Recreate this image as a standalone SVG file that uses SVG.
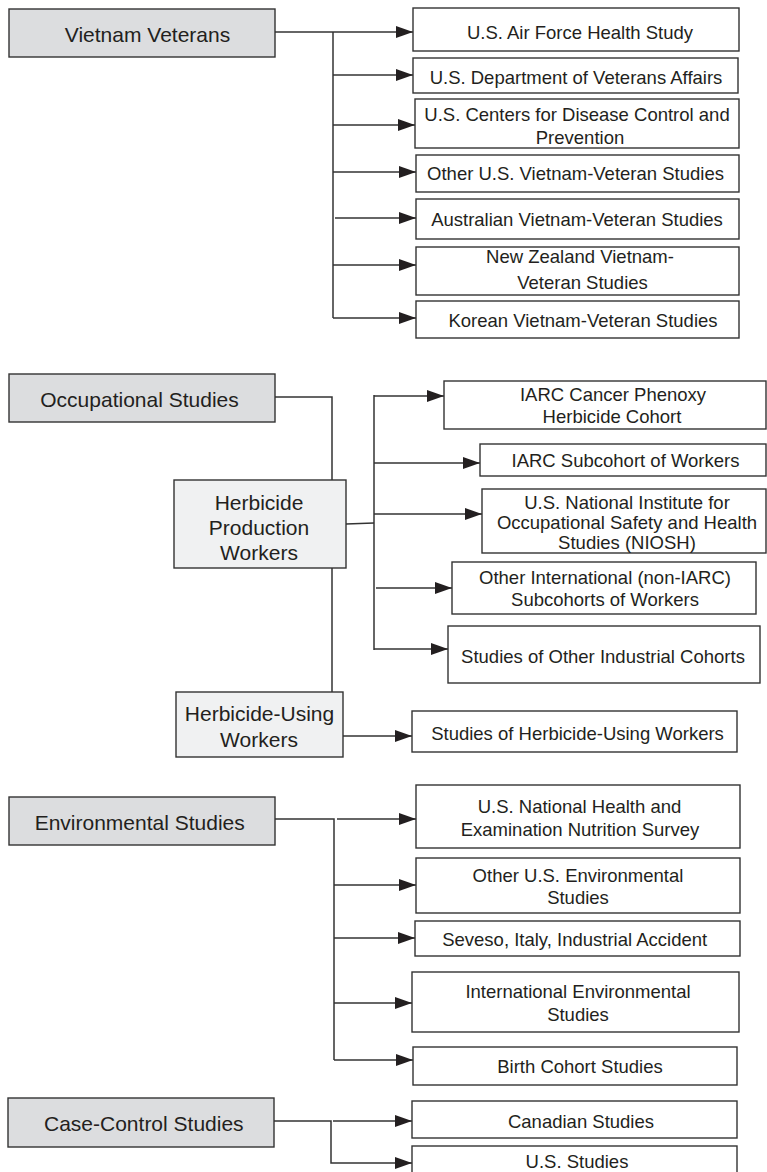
<svg xmlns="http://www.w3.org/2000/svg" width="767" height="1172" viewBox="0 0 767 1172">
<style>
.bg{fill:#ffffff}
.main rect{fill:#dcdddf;stroke:#333;stroke-width:1.4}
.sub rect{fill:#f0f1f2;stroke:#333;stroke-width:1.4}
.leaf rect{fill:#ffffff;stroke:#333;stroke-width:1.4}
text{font-family:"Liberation Sans",Arial,sans-serif;fill:#231f20;text-anchor:middle}
.main text,.sub text{font-size:21px}
.leaf text{font-size:18.5px}
#connectors path{fill:none;stroke:#333;stroke-width:1.5}
</style>
<defs>
<marker id="arr" markerUnits="userSpaceOnUse" markerWidth="18" markerHeight="13" refX="17" refY="6" orient="auto">
<path d="M0,0 L17,6 L0,12 z" fill="#231f20"/>
</marker>
</defs>
<rect class="bg" x="0" y="0" width="767" height="1172"/>

<g id="connectors">
<path d="M275,32 H413" marker-end="url(#arr)"/>
<path d="M333,32 V318"/>
<path d="M333,75 H413" marker-end="url(#arr)"/>
<path d="M333,125 H415" marker-end="url(#arr)"/>
<path d="M333,172 H416" marker-end="url(#arr)"/>
<path d="M335,218 H416" marker-end="url(#arr)"/>
<path d="M333,265 H416" marker-end="url(#arr)"/>
<path d="M333,318 H416" marker-end="url(#arr)"/>

<path d="M275,397 H332 V480"/>
<path d="M332,568 V692"/>
<path d="M346,524 L374,523"/>
<path d="M374,395 V650"/>
<path d="M374,396 H444" marker-end="url(#arr)"/>
<path d="M374,463 H480" marker-end="url(#arr)"/>
<path d="M374,514 H482" marker-end="url(#arr)"/>
<path d="M376,588 H452" marker-end="url(#arr)"/>
<path d="M374,649 H448" marker-end="url(#arr)"/>
<path d="M343,736 H412" marker-end="url(#arr)"/>

<path d="M275,819 H334 V1060"/>
<path d="M337,819 H416" marker-end="url(#arr)"/>
<path d="M334,885 H416" marker-end="url(#arr)"/>
<path d="M334,938 H415" marker-end="url(#arr)"/>
<path d="M334,1003 H412" marker-end="url(#arr)"/>
<path d="M334,1060 H413" marker-end="url(#arr)"/>

<path d="M274,1121 H331 V1163 H412" marker-end="url(#arr)"/>
<path d="M333,1121 H412" marker-end="url(#arr)"/>
</g>

<g id="vietnam-veterans" class="main"><rect x="9" y="9" width="266" height="48"/><text x="147.5" y="41.5">Vietnam Veterans</text></g>
<g id="af-health" class="leaf"><rect x="413" y="8" width="326" height="43"/><text x="580" y="39">U.S. Air Force Health Study</text></g>
<g id="va" class="leaf"><rect x="413" y="58" width="325" height="35"/><text x="576" y="84">U.S. Department of Veterans Affairs</text></g>
<g id="cdc" class="leaf"><rect x="415" y="99" width="324" height="49"/><text x="577" y="120.5">U.S. Centers for Disease Control and</text><text x="580" y="144">Prevention</text></g>
<g id="other-us-vv" class="leaf"><rect x="416" y="155" width="323" height="37"/><text x="575.5" y="180">Other U.S. Vietnam-Veteran Studies</text></g>
<g id="australian-vv" class="leaf"><rect x="416" y="199" width="323" height="40"/><text x="577" y="226">Australian Vietnam-Veteran Studies</text></g>
<g id="nz-vv" class="leaf"><rect x="416" y="247" width="323" height="48"/><text x="580" y="263">New Zealand Vietnam-</text><text x="582.5" y="289">Veteran Studies</text></g>
<g id="korean-vv" class="leaf"><rect x="416" y="301" width="323" height="37"/><text x="583" y="327">Korean Vietnam-Veteran Studies</text></g>

<g id="occupational" class="main"><rect x="9" y="374" width="266" height="48"/><text x="139.5" y="406.5">Occupational Studies</text></g>
<g id="herbicide-production" class="sub"><rect x="174" y="480" width="172" height="88"/><text x="259" y="509.5">Herbicide</text><text x="259" y="534.5">Production</text><text x="259" y="559.5">Workers</text></g>
<g id="herbicide-using" class="sub"><rect x="176" y="692" width="167" height="65"/><text x="259.5" y="720.5">Herbicide-Using</text><text x="259" y="746.5">Workers</text></g>
<g id="iarc-cancer" class="leaf"><rect x="444" y="381" width="322" height="48"/><text x="613" y="400.5">IARC Cancer Phenoxy</text><text x="612" y="422.5">Herbicide Cohort</text></g>
<g id="iarc-subcohort" class="leaf"><rect x="480" y="444" width="286" height="32"/><text x="625.5" y="466.5">IARC Subcohort of Workers</text></g>
<g id="niosh" class="leaf"><rect x="482" y="489" width="284" height="64"/><text x="627" y="508.5">U.S. National Institute for</text><text x="627" y="528.5">Occupational Safety and Health</text><text x="627" y="548.5">Studies (NIOSH)</text></g>
<g id="other-intl" class="leaf"><rect x="452" y="562" width="304" height="52"/><text x="605" y="583.5">Other International (non-IARC)</text><text x="605" y="605.5">Subcohorts of Workers</text></g>
<g id="other-industrial" class="leaf"><rect x="448" y="626" width="312" height="57"/><text x="603" y="662.5">Studies of Other Industrial Cohorts</text></g>
<g id="herbicide-using-studies" class="leaf"><rect x="412" y="711" width="325" height="41"/><text x="577.5" y="739.5">Studies of Herbicide-Using Workers</text></g>

<g id="environmental" class="main"><rect x="9" y="797" width="266" height="48"/><text x="139.7" y="829.5">Environmental Studies</text></g>
<g id="nhanes" class="leaf"><rect x="416" y="785" width="324" height="63"/><text x="579.5" y="812.5">U.S. National Health and</text><text x="580" y="835.5">Examination Nutrition Survey</text></g>
<g id="other-us-env" class="leaf"><rect x="416" y="858" width="324" height="55"/><text x="578" y="881.5">Other U.S. Environmental</text><text x="578" y="903.5">Studies</text></g>
<g id="seveso" class="leaf"><rect x="415" y="921" width="325" height="35"/><text x="574.7" y="945.5">Seveso, Italy, Industrial Accident</text></g>
<g id="intl-env" class="leaf"><rect x="412" y="972" width="327" height="60"/><text x="578" y="997.5">International Environmental</text><text x="578" y="1020.5">Studies</text></g>
<g id="birth-cohort" class="leaf"><rect x="413" y="1047" width="324" height="38"/><text x="580" y="1072.5">Birth Cohort Studies</text></g>

<g id="case-control" class="main"><rect x="8" y="1098" width="266" height="49"/><text x="143.8" y="1130.5">Case-Control Studies</text></g>
<g id="canadian" class="leaf"><rect x="412" y="1101" width="325" height="37"/><text x="581" y="1127.5">Canadian Studies</text></g>
<g id="us-studies" class="leaf"><rect x="412" y="1146" width="325" height="40"/><text x="577" y="1167.5">U.S. Studies</text></g>
</svg>
